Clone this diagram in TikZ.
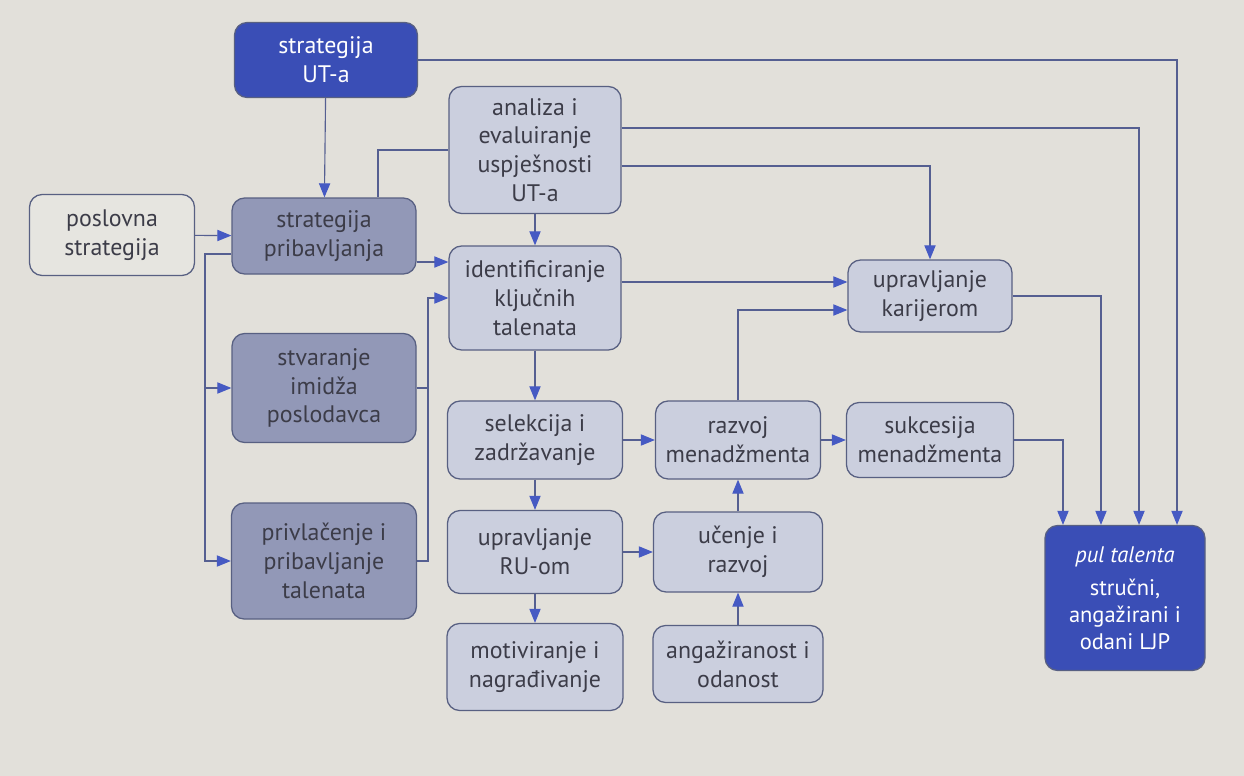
\documentclass[tikz,border=0pt]{standalone}
\usepackage{fontspec}
\setmainfont{PT Sans}
\usetikzlibrary{arrows.meta}
\definecolor{paper}{RGB}{226,224,218}
\definecolor{deepblue}{RGB}{58,78,182}
\definecolor{midgrey}{RGB}{146,152,183}
\definecolor{lightgrey}{RGB}{203,207,222}
\definecolor{edgec}{RGB}{88,96,130}
\definecolor{wirec}{RGB}{85,95,145}
\definecolor{tipc}{RGB}{70,90,195}
\definecolor{ink}{RGB}{60,60,72}
\newlength\pxu
\setlength\pxu{0.025cm}
\tikzset{
	box/.style={draw=edgec, line width=0.9pt, rounded corners=9pt, align=center, text=ink, font=\fontsize{17}{20.5}\selectfont, inner sep=2pt},
	topbox/.style={box, fill=deepblue, text=white},
	midbox/.style={box, fill=midgrey},
	lowbox/.style={box, fill=lightgrey},
	inbox/.style={box, fill=paper!85!white},
	wire/.style={draw=wirec, line width=0.8pt},
	arr/.style={wire, -{Triangle[length=10pt,width=8pt,color=tipc]}},
}
\begin{document}
\begin{tikzpicture}[x=0.025cm,y=-0.025cm]
	\fill[paper] (0,0) rectangle (1244,776);
	% boxes
	\node[topbox, minimum width=183\pxu, minimum height=75\pxu] (sut) at (326,60) {strategija\\UT-a};
	\node[inbox, minimum width=165\pxu, minimum height=81\pxu] (posl) at (112,235) {poslovna\\strategija};
	\node[midbox, minimum width=184\pxu, minimum height=76\pxu] (spr) at (324,236) {strategija\\pribavljanja};
	\node[midbox, minimum width=184\pxu, minimum height=109\pxu] (imid) at (324,388) {stvaranje\\imidža\\poslodavca};
	\node[midbox, minimum width=185\pxu, minimum height=116\pxu] (privl) at (324,561) {privlačenje i\\pribavljanje\\talenata};
	\node[lowbox, minimum width=172\pxu, minimum height=127\pxu] (anal) at (535,150) {analiza i\\evaluiranje\\uspješnosti\\UT-a};
	\node[lowbox, minimum width=172\pxu, minimum height=104\pxu] (ident) at (535,298) {identificiranje\\ključnih\\talenata};
	\node[lowbox, minimum width=175\pxu, minimum height=78\pxu] (sel) at (535,440) {selekcija i\\zadržavanje};
	\node[lowbox, minimum width=175\pxu, minimum height=83\pxu] (rum) at (535,552) {upravljanje\\RU-om};
	\node[lowbox, minimum width=176\pxu, minimum height=87\pxu] (motiv) at (535,667) {motiviranje i\\nagrađivanje};
	\node[lowbox, minimum width=165\pxu, minimum height=78\pxu] (razm) at (738,440) {razvoj\\menadžmenta};
	\node[lowbox, minimum width=169\pxu, minimum height=80\pxu] (ucen) at (738,552) {učenje i\\razvoj};
	\node[lowbox, minimum width=170\pxu, minimum height=77\pxu] (anga) at (738,664) {angažiranost i\\odanost};
	\node[lowbox, minimum width=164\pxu, minimum height=72\pxu] (kar) at (930,296) {upravljanje\\karijerom};
	\node[lowbox, minimum width=167\pxu, minimum height=75\pxu] (suk) at (930,440) {sukcesija\\menadžmenta};
	\node[topbox, minimum width=160\pxu, minimum height=145\pxu, font=\fontsize{16}{19}\selectfont] (pul) at (1125,598) {\textit{pul talenta}\\[5pt]stručni,\\angažirani i\\odani LJP};
	% left part
	\draw[arr] (sut) -- (spr);
	\draw[arr] (posl) -- (spr);
	\draw[wire] (anal.west) -| ([xshift=1.35cm]spr.north);
	\draw[arr] ([yshift=-0.65cm]spr.east) -- ([yshift=-0.65cm]spr.east -| ident.west);
	\coordinate (lbus) at (205,561);
	\draw[arr] ([yshift=-0.45cm]spr.west) -| (lbus) -- (privl.west);
	\draw[arr] (lbus |- imid.west) -- (imid.west);
	\coordinate (rbus) at (428,298);
	\draw[wire] (imid.east) -- (imid.east -| rbus);
	\draw[arr] (privl.east) -| (rbus) -- (ident.west);
	% middle column
	\draw[arr] (anal) -- (ident);
	\draw[arr] (ident) -- (sel);
	\draw[arr] (sel) -- (rum);
	\draw[arr] (rum) -- (motiv);
	\draw[arr] (sel) -- (razm);
	\draw[arr] (rum) -- (ucen);
	\draw[arr] (razm) -- (suk);
	\draw[arr] (ucen) -- (razm);
	\draw[arr] (anga) -- (ucen);
	% to karijera
	\draw[arr] (razm.north) |- ([yshift=-0.35cm]kar.west);
	\draw[arr] ([yshift=0.4cm]ident.east) -- ([yshift=0.4cm]ident.east -| kar.west);
	\draw[arr] ([yshift=-0.4cm]anal.east) -| (kar.north);
	% to pul talenta
	\draw[arr] (sut.east) -| ([xshift=1.3cm]pul.north);
	\draw[arr] ([yshift=0.55cm]anal.east) -| ([xshift=0.35cm]pul.north);
	\draw[arr] (kar.east) -| ([xshift=-0.6cm]pul.north);
	\draw[arr] (suk.east) -| ([xshift=-1.55cm]pul.north);
\end{tikzpicture}
\end{document}
